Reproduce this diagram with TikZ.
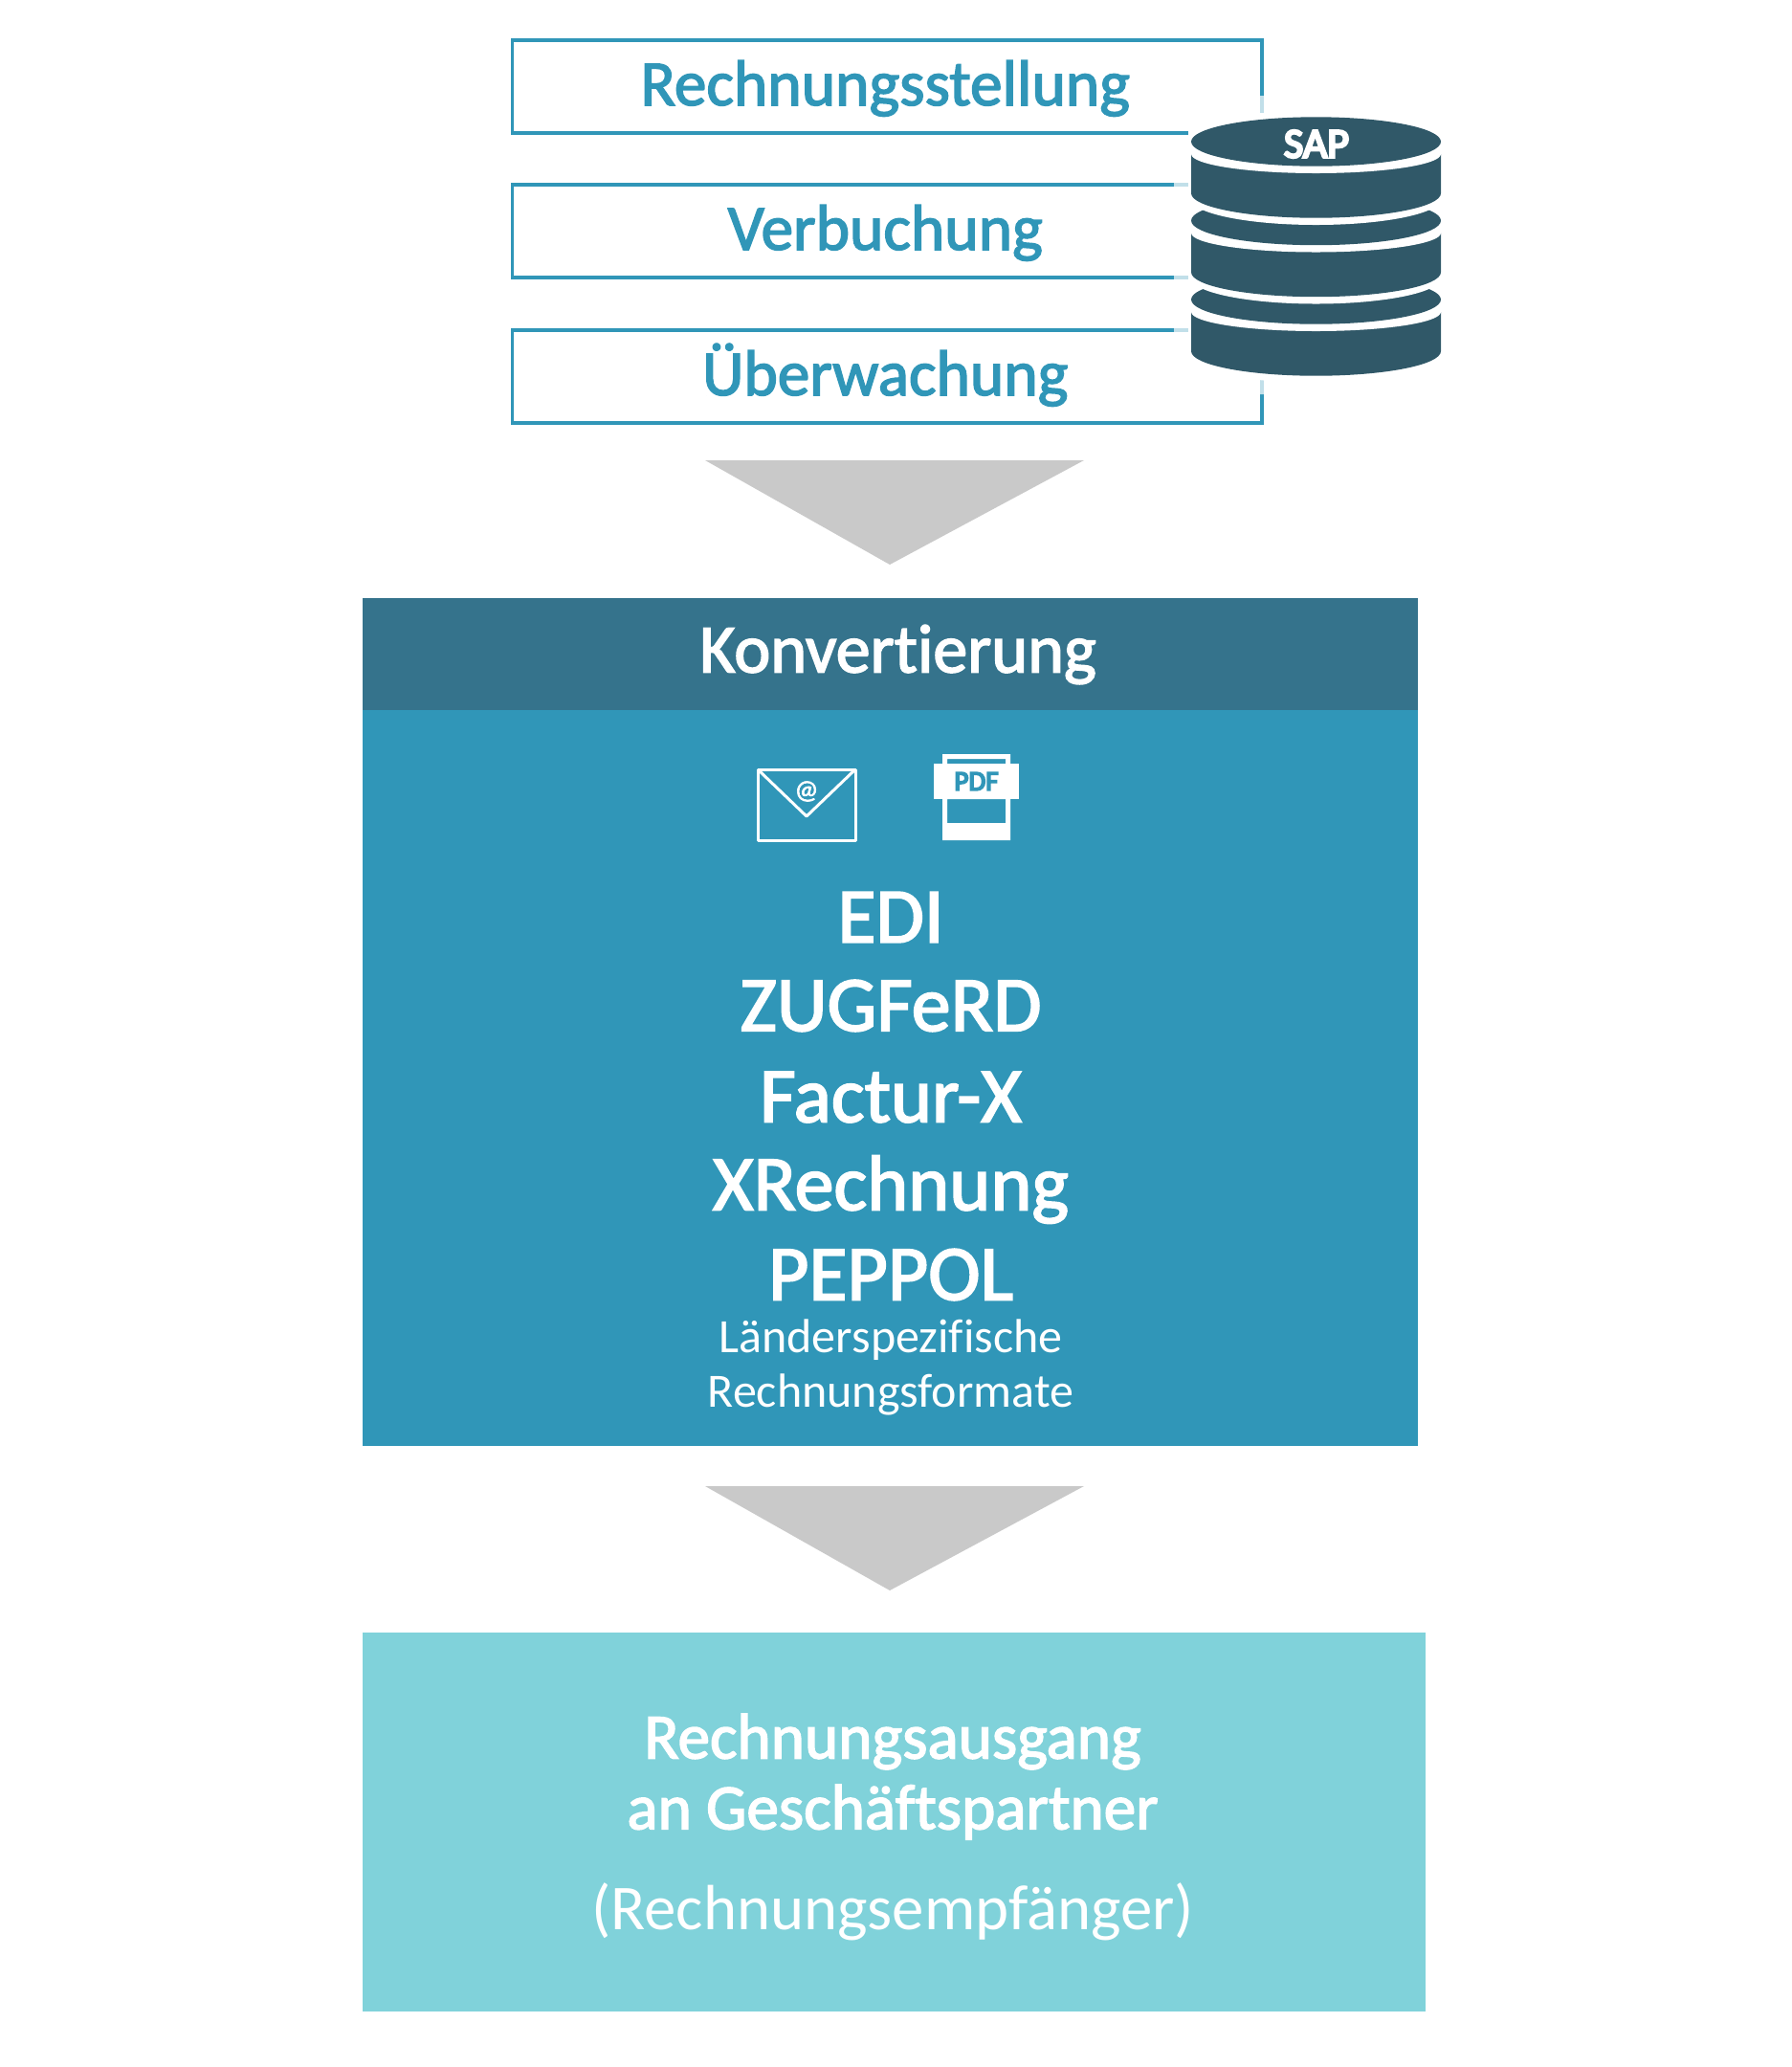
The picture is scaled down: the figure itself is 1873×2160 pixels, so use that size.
\documentclass[tikz,border=0pt]{standalone}
\usepackage{fontspec}
\setmainfont[Ligatures=NoCommon]{Carlito}
\newfontfamily\semifont[FakeBold=2.2,Ligatures=NoCommon]{Carlito}
\newfontfamily\sapfont[FakeBold=6]{Carlito}
\definecolor{blau}{HTML}{3096B8}
\definecolor{kopf}{HTML}{35738C}
\definecolor{sap}{HTML}{305868}
\definecolor{tuerkis}{HTML}{80D2DA}
\definecolor{pfeil}{HTML}{C9C9C9}
\tikzset{
    stepbox/.style={draw=blau,line width=1.75pt,minimum width=391.75pt,minimum height=48.5pt,inner sep=0pt,text height=21pt,text depth=1.5pt,text=blau,execute at end node={\hspace{2pt}},font=\fontsize{33.7}{33.7}\semifont},
    weiss/.style={text=white,inner sep=0pt},
    gross/.style={weiss,font=\fontsize{41}{41}\semifont},
    mittel/.style={weiss,font=\fontsize{33.6}{33.6}\semifont},
    klein/.style={weiss,font=\fontsize{25}{25}\selectfont},
    leicht/.style={weiss,font=\fontsize{33.4}{33.4}\selectfont},
    flaeche/.style={minimum width=551.65pt,inner sep=0pt},
}
\begin{document}
\begin{tikzpicture}[x=0.5pt,y=-0.5pt]
        \useasboundingbox(0,0)rectangle(1873,2160);
        \node(rs)at(927.25,90.5)[stepbox]{Rechnungsstellung};
        \node(vb)at(927.25,241.5)[stepbox]{Verbuchung};
        \node(uw)at(927.25,393.5)[stepbox]{Überwachung};
        % SAP
        \fill[white,opacity=.7](1242,100)--(1530,100)--(1530,412)--(1227,412)--(1227,150)--(1242,150)--cycle;
        \fill[white](1242,118)rectangle(1530,395);
        \foreach \c in {313,230.5,148}{
            \fill[white](1375.5,\c+60)ellipse[x radius=130.5,y radius=27];
            \fill[sap](1245,\c+13)--(1245,\c+54)arc[start angle=180,end angle=360,x radius=130.5,y radius=-25.7]--(1506,\c+13)--cycle;
            \fill[white](1375.5,\c+13)ellipse[x radius=130.5,y radius=20];
            \fill[sap](1375.5,\c)ellipse[x radius=130.5,y radius=25.7];
        }
        \node(sap)at(1376,150.5)[weiss,font=\fontsize{22}{22}\sapfont]{SAP};
        \fill[pfeil](737,481)--(1133,481)--(930,590)--cycle;
        \node(konv)at(930.6,683.3)[flaeche,fill=kopf,minimum height=58.35pt]{};
        \node(blk)at(930.6,1126.2)[flaeche,fill=blau,minimum height=384.5pt]{};
        \node(ktxt)at(938.5,684)[weiss,font=\fontsize{36}{36}\semifont]{Konvertierung};
        % Icons
        \draw[white,line width=1.5pt,line join=round](792,804)rectangle(894,878);
        \draw[white,line width=1.5pt,line join=round](792,804)--(843,853)--(894,804);
        \node(at)at(843,827)[text=white,inner sep=0pt,font=\fontsize{14}{14}\semifont]{@};
        \fill[white,even odd rule](985,788)rectangle(1056,878)(990,793)rectangle(1051,798)(990,835)rectangle(1051,860);
        \node(pdf)at(1020.5,816.5)[fill=white,minimum width=44.5pt,minimum height=18.5pt,inner sep=0pt,text=blau,font=\fontsize{14.5}{14.5}\sapfont]{PDF};
        \node(edi)at(931,958.5)[gross]{EDI};
        \node(zug)at(931,1051)[gross]{ZUGFeRD};
        \node(fac)at(931,1146.5)[gross]{Factur-X};
        \node(xre)at(931,1243)[gross]{XRechnung};
        \node(pep)at(931,1332)[gross]{PEPPOL};
        \node(lae)at(931,1400.5)[klein]{Länderspezifische};
        \node(rfo)at(931,1457.5)[klein]{Rechnungsformate};
        \fill[pfeil](737,1553)--(1133,1553)--(930,1662)--cycle;
        \node(aus)at(934.6,1903.7)[fill=tuerkis,minimum width=555.65pt,minimum height=198pt,inner sep=0pt]{};
        \node(ra)at(933,1820)[mittel]{Rechnungsausgang};
        \node(ag)at(933,1893.5)[mittel]{an Geschäftspartner};
        \node(re)at(933,1997.5)[leicht]{(Rechnungsempfänger)};
    \end{tikzpicture}
\end{document}
